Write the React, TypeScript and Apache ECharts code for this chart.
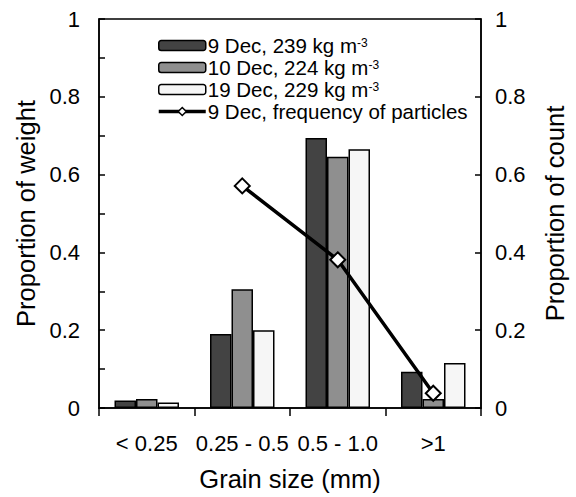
import React, { useEffect, useRef } from "react";
import * as echarts from "echarts";

const categories = ["< 0.25", "0.25 - 0.5", "0.5 - 1.0", ">1"];
const seriesNames = [
  "9 Dec, 239 kg m-3",
  "10 Dec, 224 kg m-3",
  "19 Dec, 229 kg m-3",
  "9 Dec, frequency of particles",
];
const dec9Weight = [0.019, 0.19, 0.694, 0.093];
const dec10Weight = [0.023, 0.305, 0.646, 0.023];
const dec19Weight = [0.014, 0.2, 0.665, 0.116];
const dec9Count: (number | string)[] = ["-", 0.571, 0.381, 0.038];
const barColors = ["#434343", "#8f8f8f", "#f6f6f6"];

const FONT = "Liberation Sans, Arial, sans-serif";

export default function App() {
  const ref = useRef<HTMLDivElement>(null);
  useEffect(() => {
    if (!ref.current) return;
    const chart = echarts.init(ref.current, undefined, { renderer: "svg" });
    const barSeries = [dec9Weight, dec10Weight, dec19Weight].map((d, i) => ({
      name: seriesNames[i],
      type: "bar",
      data: d,
      barWidth: 21.5,
      barGap: "0%",
      itemStyle: { color: barColors[i], borderColor: "#000", borderWidth: 1.5 },
    }));
    chart.setOption({
      animation: false,
      textStyle: { fontFamily: FONT, color: "#000" },
      grid: {
        left: 99,
        right: 93,
        top: 19,
        bottom: 82,
        show: true,
        borderColor: "#000",
        borderWidth: 1.5,
        containLabel: false,
      },
      legend: {
        orient: "vertical",
        left: 157,
        top: 35,
        padding: 0,
        itemWidth: 47,
        itemHeight: 10,
        itemGap: 1,
        data: seriesNames,
        lineStyle: { width: 3.5, color: "#000" },
        itemStyle: { borderWidth: 1.5 },
        textStyle: {
          fontFamily: FONT,
          fontSize: 20.5,
          lineHeight: 18,
          color: "#000",
          padding: [0, 0, 0, -3],
          rich: {
            sup: { fontSize: 12, lineHeight: 18, verticalAlign: "top", fontFamily: FONT, color: "#000", padding: [0, 0, 4, 0] },
          },
        },
        formatter: (name: string) =>
          name.endsWith(" m-3") ? name.replace(" m-3", " m{sup|-3}") : name,
      },
      xAxis: {
        type: "category",
        data: categories,
        boundaryGap: true,
        name: "Grain size (mm)",
        nameLocation: "middle",
        nameGap: 58,
        nameTextStyle: { fontSize: 25.5, fontFamily: FONT, color: "#000" },
        axisLine: { lineStyle: { color: "#000", width: 1.5 } },
        axisTick: { show: true, inside: false, length: 8, lineStyle: { color: "#000", width: 1.5 } },
        axisLabel: { fontSize: 22, margin: 24, color: "#000", fontFamily: FONT, interval: 0 },
      },
      yAxis: [
        {
          type: "value",
          min: 0,
          max: 1,
          interval: 0.1,
          position: "left",
          name: "Proportion of weight",
          nameLocation: "middle",
          nameGap: 58,
          nameTextStyle: { fontSize: 25.5, fontFamily: FONT, color: "#000" },
          axisLine: { show: true, lineStyle: { color: "#000", width: 1.5 } },
          axisTick: { show: true, inside: true, length: 6, lineStyle: { color: "#000", width: 1.5 } },
          splitLine: { show: false },
          axisLabel: {
            fontSize: 22,
            margin: 19,
            color: "#000",
            fontFamily: FONT,
            formatter: (v: number) => {
              const k = Math.round(v * 10);
              return k % 2 === 0 ? String(k / 10) : "";
            },
          },
        },
        {
          type: "value",
          min: 0,
          max: 1,
          interval: 0.2,
          position: "right",
          name: "Proportion of count",
          nameLocation: "middle",
          nameGap: 61,
          nameTextStyle: { fontSize: 25.5, fontFamily: FONT, color: "#000" },
          axisLine: { show: true, lineStyle: { color: "#000", width: 1.5 } },
          axisTick: { show: true, inside: true, length: 6, lineStyle: { color: "#000", width: 1.5 } },
          splitLine: { show: false },
          axisLabel: {
            fontSize: 22,
            margin: 14,
            color: "#000",
            fontFamily: FONT,
            formatter: (v: number) => String(Math.round(v * 10) / 10),
          },
        },
      ],
      series: [
        ...barSeries,
        {
          name: seriesNames[3],
          type: "line",
          yAxisIndex: 1,
          data: dec9Count,
          symbol: "diamond",
          symbolSize: 15,
          showAllSymbol: true,
          lineStyle: { color: "#000", width: 3.5 },
          itemStyle: { color: "#fff", borderColor: "#000", borderWidth: 2 },
          z: 5,
        },
      ],
    });
    return () => chart.dispose();
  }, []);
  return (
    <div
      ref={ref}
      style={{ position: "fixed", left: 0, top: 0, width: 576, height: 497, background: "#fff" }}
    />
  );
}
